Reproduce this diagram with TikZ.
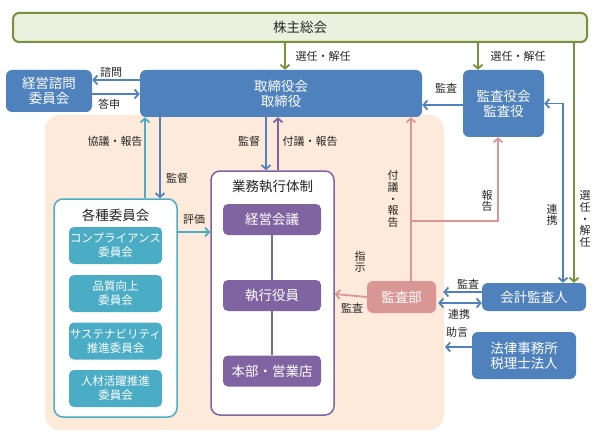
\documentclass[tikz,border=0pt]{standalone}
\usepackage{fontspec}
\setmainfont{Noto Sans CJK JP}
\usepackage{tikz}
\usetikzlibrary{arrows.meta}
\definecolor{kblue}{RGB}{79,129,189}
\definecolor{kteal}{RGB}{75,172,198}
\definecolor{kpurple}{RGB}{128,100,162}
\definecolor{kpink}{RGB}{217,150,148}
\definecolor{kpeach}{RGB}{253,234,218}
\definecolor{kgreen}{RGB}{118,146,60}
\definecolor{kgreenfill}{RGB}{235,241,222}
\definecolor{ktext}{RGB}{38,38,38}
\newcommand{\bigfont}{\fontsize{13.5}{15}\selectfont}
\newcommand{\labfont}{\fontsize{11}{11.6}\selectfont}
\tikzset{
  orgbox/.style={rounded corners=6pt, align=center, text=white, inner sep=0pt, font=\bigfont},
  bluebox/.style={orgbox, fill=kblue},
  tealbox/.style={orgbox, fill=kteal, rounded corners=5pt, font=\fontsize{11.5}{14}\selectfont},
  purplebox/.style={orgbox, fill=kpurple, rounded corners=5pt},
  pinkbox/.style={orgbox, fill=kpink},
  framebox/.style={rounded corners=9pt, fill=white, line width=1.5pt, inner sep=0pt},
  lab/.style={font=\labfont, text=ktext, inner sep=0pt, align=center},
  arr/.style={line width=1.8pt, -{Straight Barb[length=4pt,width=9pt]}},
  biarr/.style={line width=1.8pt, {Straight Barb[length=4pt,width=9pt]}-{Straight Barb[length=4pt,width=9pt]}},
}

\begin{document}
\begin{tikzpicture}[x=1pt,y=-1pt]
\useasboundingbox (0,0) rectangle (598,436);
% peach area
\fill[kpeach, rounded corners=15pt] (45,115) rectangle (444,430);
% boxes
\node[draw=kgreen, fill=kgreenfill, line width=2pt, rounded corners=6pt, minimum width=574pt, minimum height=29pt, font=\bigfont, text=ktext] (soukai) at (300,27.5) {株主総会};
\node[bluebox, minimum width=86pt, minimum height=42pt] (shimon) at (49,91) {経営諮問\\委員会};
\node[bluebox, minimum width=282pt, minimum height=47pt] (torishimari) at (281,93.5) {取締役会\\取締役};
\node[bluebox, minimum width=81pt, minimum height=67pt] (kansayaku) at (503.5,103.5) {監査役会\\監査役};
\node[framebox, draw=kteal, minimum width=123pt, minimum height=218pt] (iinkai) at (115.5,308) {};
\node[lab, font=\bigfont] (iinkai-t) at (115.5,215) {各種委員会};
\node[tealbox, minimum width=93pt, minimum height=37pt] (comp) at (115.5,245.5) {コンプライアンス\\委員会};
\node[tealbox, minimum width=93pt, minimum height=37pt] (hinshitsu) at (115.5,293.5) {品質向上\\委員会};
\node[tealbox, minimum width=93pt, minimum height=37pt] (susta) at (115.5,341) {サステナビリティ\\推進委員会};
\node[tealbox, minimum width=93pt, minimum height=37pt] (jinzai) at (115.5,388.5) {人材活躍推進\\委員会};
\node[framebox, draw=kpurple, minimum width=123pt, minimum height=244pt] (gyomu) at (272.5,293) {};
\node[lab, font=\bigfont] (gyomu-t) at (272.5,186) {業務執行体制};
\node[purplebox, minimum width=98pt, minimum height=31pt] (keiei) at (272,219.5) {経営会議};
\node[purplebox, minimum width=98pt, minimum height=31pt] (shikko) at (272,295.5) {執行役員};
\node[purplebox, minimum width=98pt, minimum height=31pt] (honbu) at (272,371) {本部・営業店};
\node[pinkbox, minimum width=69pt, minimum height=32pt] (kansabu) at (401.5,297) {監査部};
\node[bluebox, minimum width=104pt, minimum height=28pt] (kaikei) at (534,297) {会計監査人};
\node[bluebox, minimum width=104pt, minimum height=47pt] (houritsu) at (524,355.5) {法律事務所\\税理士法人};
\coordinate (jogen) at (445,347);
% purple links
\draw[kpurple, line width=1.8pt] (keiei.south) -- (shikko.north) (shikko.south) -- (honbu.north);
% green
\draw[arr, kgreen] (285,0 |- soukai.south) -- (285,0 |- torishimari.north);
\draw[arr, kgreen] (478,0 |- soukai.south) -- (478,0 |- kansayaku.north);
\draw[arr, kgreen] (574,0 |- soukai.south) -- (574,0 |- kaikei.north);
\node[lab] (l-senin1) at (323,56) {選任・解任};
\node[lab] (l-senin2) at (518,56) {選任・解任};
\node[lab] (l-senin3) at (585,219) {選\\任\\・\\解\\任};
% blue
\draw[biarr, kblue] (kansayaku.east) -| (563,0 |- kaikei.north);
\node[lab] (l-renkei1) at (552,215) {連\\携};
\draw[arr, kblue] (torishimari.west |- 0,80) -- (shimon.east |- 0,80);
\node[lab] (l-shimon) at (111,72) {諮問};
\draw[arr, kblue] (shimon.east |- 0,94) -- (torishimari.west |- 0,94);
\node[lab] (l-toshin) at (109,104) {答申};
\draw[arr, kblue] (kansayaku.west |- 0,105) -- (torishimari.east |- 0,105);
\node[lab] (l-kansa1) at (446,88) {監査};
\draw[arr, kblue] (160,0 |- torishimari.south) -- (160,0 |- iinkai.north);
\node[lab] (l-kantoku1) at (177,178) {監督};
\draw[arr, kblue] (266,0 |- torishimari.south) -- (266,0 |- gyomu.north);
\node[lab] (l-kantoku2) at (249,141) {監督};
\draw[arr, kblue, shorten >=7pt] (kaikei.west |- 0,292) -- (kansabu.east |- 0,292);
\node[lab] (l-kansa2) at (468,284) {監査};
\draw[biarr, kblue, shorten >=2pt] (kaikei.west |- 0,303) -- (kansabu.east |- 0,303);
\node[lab] (l-renkei2) at (459,314) {連携};
\draw[arr, kblue] (houritsu.west |- jogen) -- (jogen);
\node[lab] (l-jogen) at (457,332) {助言};
% teal
\draw[arr, kteal] (145,0 |- iinkai.north) -- (145,0 |- torishimari.south);
\node[lab] (l-kyogi) at (115,141) {協議・報告};
\draw[arr, kteal] (iinkai.east |- 0,232) -- (gyomu.west |- 0,232);
\node[lab] (l-hyoka) at (194,219) {評価};
% purple
\draw[arr, kpurple] (278,0 |- gyomu.north) -- (278,0 |- torishimari.south);
\node[lab] (l-fugi1) at (310,141) {付議・報告};
% pink
\draw[arr, kpink] (411,0 |- kansabu.north) -- (411,0 |- torishimari.south);
\node[lab] (l-fugi2) at (393,199) {付\\議\\・\\報\\告};
\draw[arr, kpink] (411,221) -| (498,0 |- kansayaku.south);
\node[lab] (l-hokoku) at (487,201) {報\\告};
\draw[arr, kpink] (kansabu.west) -- (gyomu.east |- 0,294);
\node[lab] (l-shiji) at (360,262) {指\\示};
\node[lab] (l-kansa3) at (352,308) {監査};
\end{tikzpicture}
\end{document}
